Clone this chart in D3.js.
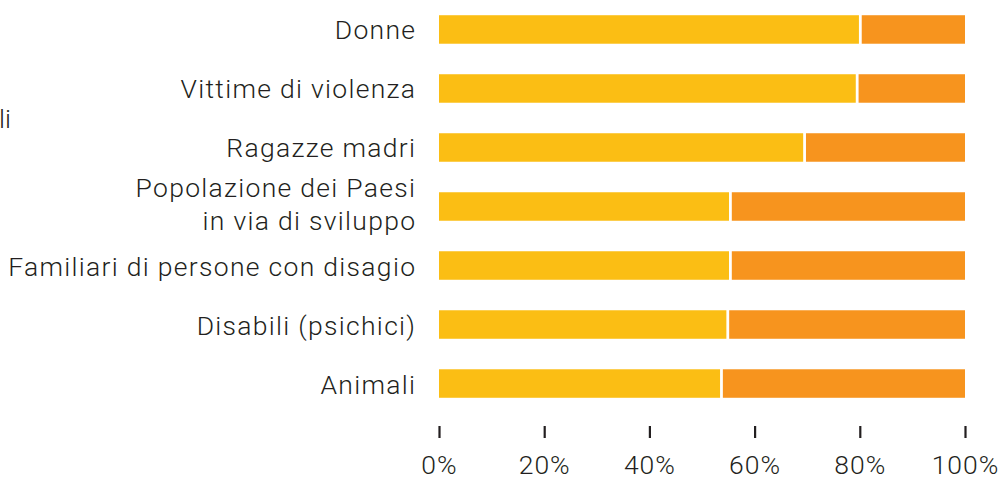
<!DOCTYPE html>
<html><head><meta charset="utf-8">
<script src="https://cdn.jsdelivr.net/npm/d3@7"></script>
<style>body{margin:0;background:#fff}svg{display:block}text{font-family:Roboto,sans-serif;font-weight:300;fill:#231f20}</style>
</head><body><svg id="c" width="1006" height="479"></svg>
<script>
const categories = ["Donne","Vittime di violenza","Ragazze madri","Popolazione dei Paesi\nin via di sviluppo","Familiari di persone con disagio","Disabili (psichici)","Animali"];
const firstShare = [80.1, 79.5, 69.5, 55.4, 55.4, 54.9, 53.7];
const secondShare = firstShare.map(v => 100 - v);
const tickValues = [0, 20, 40, 60, 80, 100];
const tickLabels = ["0%","20%","40%","60%","80%","100%"];
const colors = ["#fbbe14", "#f7941e"];

const svg = d3.select("#c");
const x = d3.scaleLinear().domain([0,100]).range([439,965]);
const y = d3.scaleBand().domain(categories).range([0,413]).paddingInner(0.517).paddingOuter(0.258);
const gap = 1.4;
const ls = 1.3;

const rows = svg.selectAll("g.row").data(categories).join("g").attr("class","row");
rows.append("rect").attr("x", x(0)).attr("y", c => y(c))
  .attr("width", (c,i) => x(firstShare[i]) - x(0) - gap).attr("height", y.bandwidth()).attr("fill", colors[0]);
rows.append("rect").attr("x", (c,i) => x(100 - secondShare[i]) + gap).attr("y", c => y(c))
  .attr("width", (c,i) => x(secondShare[i]) - x(0) - gap).attr("height", y.bandwidth()).attr("fill", colors[1]);

rows.append("text").attr("text-anchor","end").attr("font-size", 26.5).attr("letter-spacing", ls)
  .each(function(c){
    const lines = c.split("\n");
    const cy = y(c) + y.bandwidth()/2;
    const t = d3.select(this);
    lines.forEach((l,k) => {
      const yy = lines.length === 1 ? cy + 10 : cy + 7 + (k - 0.5) * 33;
      t.append("tspan").attr("x", 415 + ls).attr("y", yy).text(l);
    });
  });

svg.append("text").attr("x", 11).attr("y", 128).attr("text-anchor","end").attr("font-size",26.5).text("li");

const axis = d3.axisBottom(x).tickValues(tickValues).tickFormat((d,i) => tickLabels[i]).tickSize(12).tickPadding(10);
const ga = svg.append("g").attr("transform","translate(0,426)").call(axis);
ga.select(".domain").remove();
ga.selectAll(".tick line").attr("stroke","#231f20").attr("stroke-width",2.2);
ga.selectAll(".tick text").attr("font-size",26.5).attr("font-family","Roboto,sans-serif").attr("font-weight",300)
  .attr("letter-spacing", 1).attr("fill","#231f20").attr("dy","0.71em").attr("y", 29);
</script></body></html>
